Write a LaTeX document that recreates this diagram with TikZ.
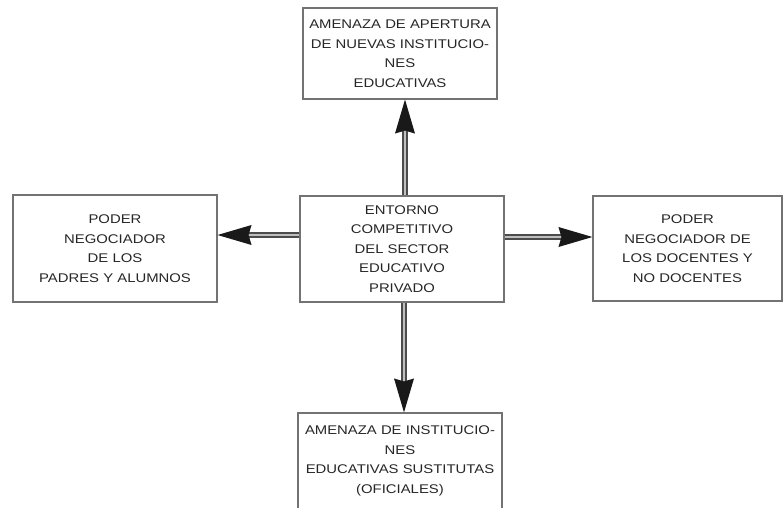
\documentclass[tikz,border=0pt]{standalone}
\usepackage{fontspec}
\setmainfont{Liberation Sans}[FakeStretch=1.18]
\usetikzlibrary{decorations.markings,calc}
\begin{document}
\begin{tikzpicture}[x=1pt,y=-1pt,
  box/.style={draw=black!55, line width=1.1pt, inner sep=0pt, align=center,
    font=\fontsize{12.6}{19.5}\selectfont, text=black!85},
  conn/.style={draw=black!70, line width=2pt, double=black!25, double distance=2.8pt,
    shorten >=28pt,
    postaction={decorate, decoration={markings,
      mark=at position 0.9999 with {\fill[black!90] (0pt,0pt) -- (-34pt,10pt) -- (-31pt,0pt) -- (-34pt,-10pt) -- cycle;}}}}]
\useasboundingbox (0,0) rectangle (783,507);
\clip (0,0) rectangle (783,507);
\node[box, minimum width=194pt, minimum height=91pt] (t) at (400,53.5)
  {AMENAZA DE APERTURA\\DE NUEVAS INSTITUCIO-\\NES\\EDUCATIVAS};
\node[box, minimum width=204pt, minimum height=106pt] (c) at (402,249)
  {ENTORNO\\COMPETITIVO\\DEL SECTOR\\EDUCATIVO\\PRIVADO};
\node[box, minimum width=204pt, minimum height=107pt] (l) at (115,248.5)
  {PODER\\NEGOCIADOR\\DE LOS\\PADRES Y ALUMNOS};
\node[box, minimum width=189pt, minimum height=105pt] (r) at (687.5,248.5)
  {PODER\\NEGOCIADOR DE\\LOS DOCENTES Y\\NO DOCENTES};
\node[box, minimum width=204pt, minimum height=96pt] (b) at (400,461)
  {AMENAZA DE INSTITUCIO-\\NES\\EDUCATIVAS SUSTITUTAS\\(OFICIALES)};
\draw[conn] ([xshift=3pt]c.north) -- ([xshift=3pt]c.north |- t.south);
\draw[conn] ([xshift=2pt]c.south) -- ([xshift=2pt]c.south |- b.north);
\draw[conn] ([yshift=14pt]c.west) -- ([yshift=14pt]c.west -| l.east);
\draw[conn] ([yshift=12pt]c.east) -- ([yshift=12pt]c.east -| r.west);
\end{tikzpicture}
\end{document}
